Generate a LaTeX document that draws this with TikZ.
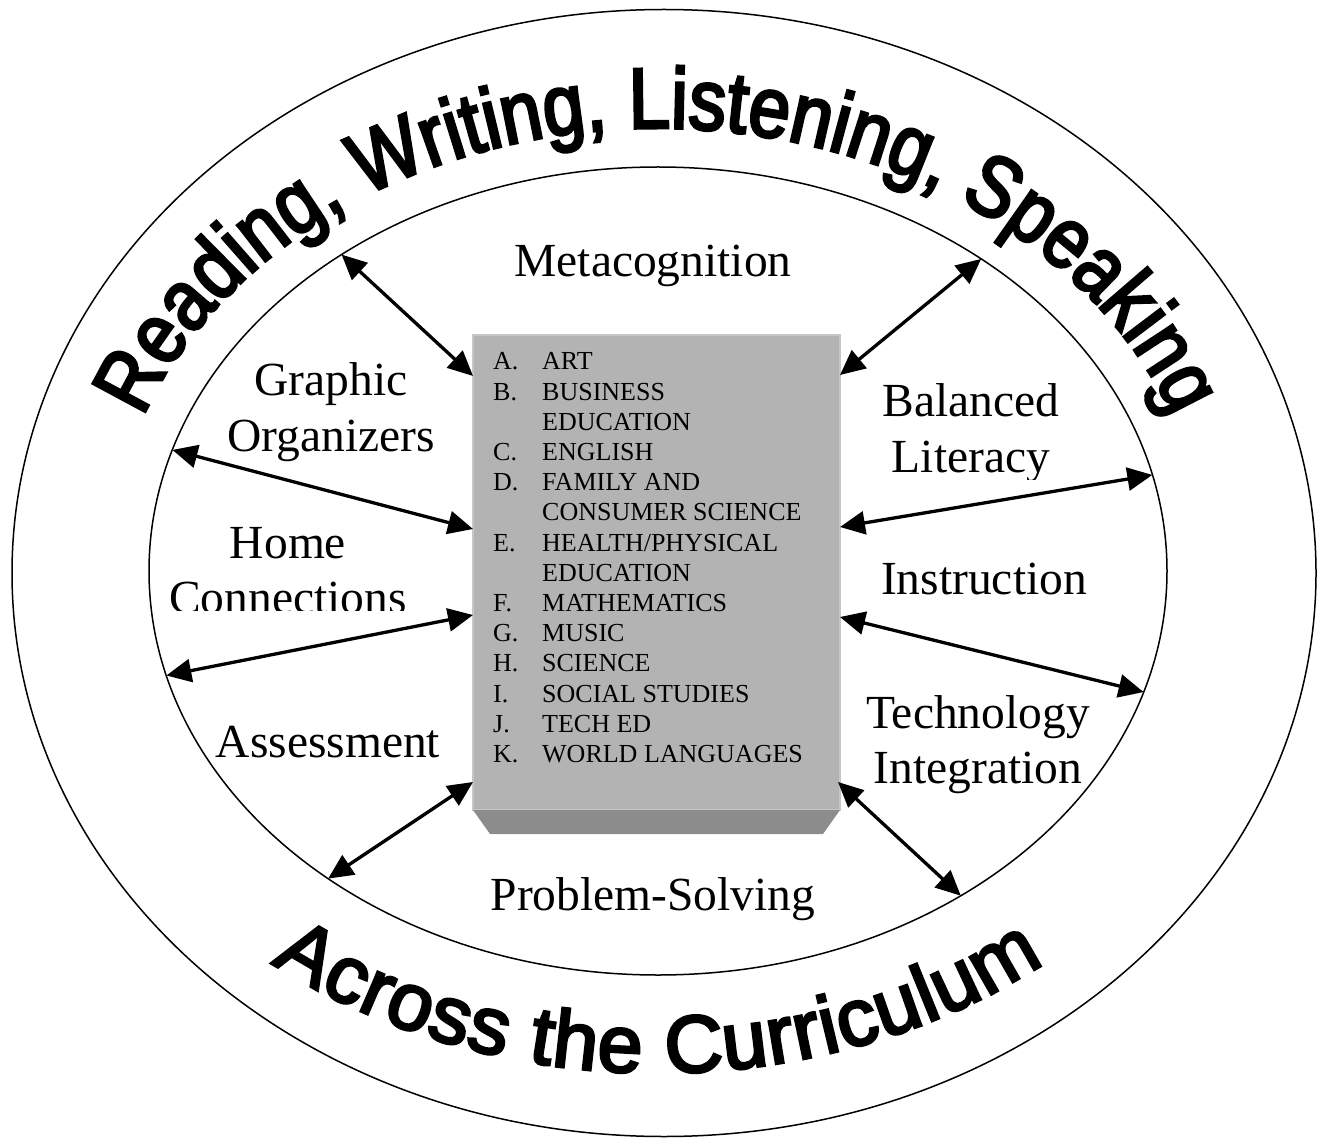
\documentclass[tikz,border=0pt]{standalone}
\usepackage{fontspec}
\setmainfont{Liberation Serif}
\newfontfamily\wordarttop[FakeStretch=0.86,FakeBold=3.5]{Liberation Sans}
\newfontfamily\wordartbot[FakeBold=3.5]{Liberation Sans}
\usetikzlibrary{arrows.meta,shapes.geometric,decorations.text,calc}
\definecolor{boxface}{HTML}{B3B3B3}
\definecolor{boxedge}{HTML}{C6C6C6}
\definecolor{boxbevel}{HTML}{8C8C8C}
\newcommand\wordarttopsize{\wordarttop\fontsize{86}{86}\selectfont}
\newcommand\wordartbotsize{\wordartbot\fontsize{81}{81}\selectfont}
\begin{document}
\begin{tikzpicture}[x=1pt,y=-1pt,
  ring/.style={draw, line width=1.5pt, ellipse, inner sep=0pt, outer sep=0pt},
  dbl/.style={line width=3.3pt, {Triangle[length=25pt,width=23pt]}-{Triangle[length=25pt,width=23pt]}},
  lbl/.style={inner sep=0pt, font=\fontsize{47.5}{55.5}\selectfont, anchor=base},
]
\useasboundingbox (0,0) rectangle (1320,1139);
% rings
\node[ring, minimum width=1304pt, minimum height=1127pt] (outer) at (664,573) {};
\node[ring, minimum width=1018pt, minimum height=808pt] (inner) at (658,571) {};
% curved titles
\path[decorate, decoration={text along path, text align={fit to path},
  text={|\wordarttopsize|Reading, Writing, Listening, Speaking}}]
  plot[domain=20.5:159.5, samples=160, variable=\s] ({658-550*cos(\s)}, {573-445*sin(\s)});
\path[decorate, decoration={text along path, text align={fit to path},
  text={|\wordartbotsize|Across the Curriculum}}]
  plot[domain=51.2:128.8, samples=120, variable=\s] ({658-617*cos(\s)}, {573+500*sin(\s)});
% central box
\node[fill=boxface, draw=boxedge, line width=2pt, minimum width=367pt, minimum height=475pt,
  anchor=north west, inner sep=0pt, outer sep=0pt] (box) at (473,335) {};
\fill[boxbevel] (box.south west) -- (box.south east) -- ++(-17,24) -- ($(box.south west)+(17,24)$) -- cycle;
\node[anchor=base west, inner sep=0pt, font=\fontsize{26}{30.2}\selectfont] (list) at (493,370)
 {\begin{tabular}[t]{@{}p{49pt}@{}l@{}}
 A. & ART\\ B. & BUSINESS\\ & EDUCATION\\ C. & ENGLISH\\ D. & FAMILY AND\\
 & CONSUMER SCIENCE\\ E. & HEALTH/PHYSICAL\\ & EDUCATION\\ F. & MATHEMATICS\\
 G. & MUSIC\\ H. & SCIENCE\\ I. & SOCIAL STUDIES\\ J. & TECH ED\\ K. & WORLD LANGUAGES
 \end{tabular}};
% labels
\node[lbl] (meta) at (653,277) {Metacognition};
\node[lbl] (graph) at (331,396) {\begin{tabular}[t]{@{}c@{}}Graphic\\Organizers\end{tabular}};
\begin{scope}
  \clip (850,350) rectangle (1110,479);
  \node[lbl] (bal) at (971,417) {\begin{tabular}[t]{@{}c@{}}Balanced\\Literacy\end{tabular}};
\end{scope}
\begin{scope}
  \clip (150,500) rectangle (450,610);
  \node[lbl] (home) at (288,558) {\begin{tabular}[t]{@{}c@{}}Home\\Connections\end{tabular}};
\end{scope}
\node[lbl] (instr) at (984,594) {Instruction};
\node[lbl] (tech) at (978,728) {\begin{tabular}[t]{@{}c@{}}Technology\\Integration\end{tabular}};
\node[lbl] (assess) at (328,757) {Assessment};
\node[lbl] (prob) at (653,910) {Problem-Solving};
% connectors
\draw[dbl] (inner.135.3) -- ([yshift=-41pt]box.north west);
\draw[dbl] (inner.44.6) -- ([yshift=-40pt]box.north east);
\draw[dbl] (inner.166.4) -- ([yshift=-194pt]box.north west);
\draw[dbl] (inner.192.2) -- ([yshift=-280pt]box.north west);
\draw[dbl] (inner.11.2) -- ([yshift=-192pt]box.north east);
\draw[dbl] (inner.346.3) -- ([yshift=-282pt]box.north east);
\draw[dbl] (inner.223.9) -- ([yshift=28pt]box.south west);
\draw[dbl] (inner.313.8) -- ([yshift=28pt,xshift=-2pt]box.south east);
\end{tikzpicture}
\end{document}
